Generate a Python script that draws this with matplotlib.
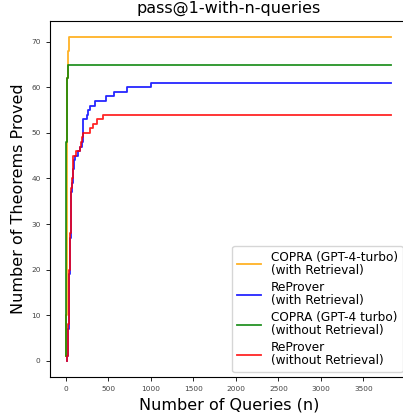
import matplotlib
matplotlib.use("Agg")
import matplotlib.pyplot as plt

# data: query count where each curve reaches a new value
copra_ret_n = [0, 4, 8, 12, 16, 20, 24, 28, 32, 35, 3830]
copra_ret_v = [1, 10, 25, 45, 62, 65, 67, 68, 70, 71, 71]

copra_noret_n = [0, 2, 4, 6, 8, 12, 16, 20, 24, 27, 3830]
copra_noret_v = [1, 15, 30, 48, 60, 61, 62, 63, 64, 65, 65]

reprover_ret_n = [10, 15, 20, 25, 30, 35, 40, 45, 50, 55, 60, 65, 70, 78, 90, 110, 140,
                  170, 185, 195, 204, 243, 263, 282, 341, 466, 564, 713, 1004, 3830]
reprover_ret_v = [0, 1, 3, 7, 11, 15, 19, 23, 27, 31, 34, 37, 39, 42, 44, 45, 46,
                  47, 48, 50, 53, 54, 55, 56, 57, 58, 59, 60, 61, 61]

reprover_noret_n = [10, 15, 20, 25, 30, 35, 40, 45, 50, 55, 60, 65, 70, 78, 86, 118,
                    165, 175, 190, 204, 282, 321, 360, 438, 3830]
reprover_noret_v = [0, 1, 4, 8, 12, 16, 20, 24, 28, 32, 35, 38, 40, 43, 45, 46,
                    47, 48, 49, 50, 51, 52, 53, 54, 54]

fig = plt.figure(figsize=(4.03, 4.16), dpi=100)
ax = fig.add_axes([49.7 / 403, 39 / 416, 358 / 403, 356 / 416])

ax.plot(copra_ret_n, copra_ret_v, drawstyle='steps-post', color='orange', alpha=0.85,
        lw=1.3, label='COPRA (GPT-4-turbo)\n(with Retrieval)')
ax.plot(reprover_ret_n, reprover_ret_v, drawstyle='steps-post', color='blue', alpha=0.85,
        lw=1.3, label='ReProver\n(with Retrieval)')
ax.plot(copra_noret_n, copra_noret_v, drawstyle='steps-post', color='green', alpha=0.85,
        lw=1.3, label='COPRA (GPT-4 turbo)\n(without Retrieval)')
ax.plot(reprover_noret_n, reprover_noret_v, drawstyle='steps-post', color='red', alpha=0.85,
        lw=1.3, label='ReProver\n(without Retrieval)')

ax.set_xticks([0, 500, 1000, 1500, 2000, 2500, 3000, 3500])
ax.set_yticks([0, 10, 20, 30, 40, 50, 60, 70])
ax.tick_params(labelsize=5.3, length=3, width=0.6, labelcolor='#444444')
for s in ax.spines.values():
    s.set_linewidth(0.8)

ax.set_title("pass@1-with-n-queries", fontsize=11.5)
ax.set_xlabel("Number of Queries (n)", fontsize=11.5)
ax.set_ylabel("Number of Theorems Proved", fontsize=11.5)
leg = ax.legend(loc='lower right', fontsize=8.7, handlelength=2.0, labelspacing=0.35,
                borderaxespad=0.4)
for t in leg.get_texts():
    t.set_linespacing(1.0)

fig.savefig("out.png", dpi=100)
